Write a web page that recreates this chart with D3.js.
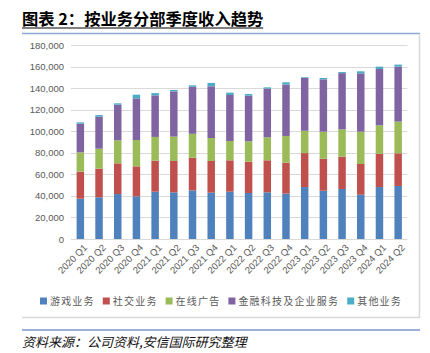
<!DOCTYPE html>
<html>
<head>
<meta charset="utf-8">
<script src="https://cdn.jsdelivr.net/npm/d3@7"></script>
<style>
  body { margin: 0; background: #fff; }
  svg { display: block; }
</style>
</head>
<body>
<div id="viz-container"></div>
<script>
// quarters on the x axis
const quarters = ["2020 Q1", "2020 Q2", "2020 Q3", "2020 Q4",
    "2021 Q1", "2021 Q2", "2021 Q3", "2021 Q4",
    "2022 Q1", "2022 Q2", "2022 Q3", "2022 Q4",
    "2023 Q1", "2023 Q2", "2023 Q3", "2023 Q4",
    "2024 Q1", "2024 Q2"];

// segment values (RMB mn)
const games   = [37400, 38700, 41700, 39600, 43900, 43300, 45100, 43000, 43900, 42700, 43300, 42100, 48200, 44800, 46400, 41100, 48200, 49200];
const social  = [25100, 26600, 28500, 27800, 28800, 29100, 30300, 29400, 29100, 29000, 29700, 28700, 31500, 29700, 30000, 28500, 31000, 30300];
const ads     = [17900, 18500, 21400, 24400, 22000, 22600, 22200, 21300, 17900, 18900, 21300, 24800, 20700, 25100, 25300, 30000, 26300, 29400];
const fintech = [26600, 29700, 33000, 38700, 38600, 42000, 43700, 48000, 42700, 42400, 45200, 47600, 49200, 48500, 52200, 54100, 52200, 51000];
const others  = [1200, 1500, 1300, 3400, 2100, 1300, 1300, 3100, 2200, 1500, 1200, 2200, 600, 1300, 1000, 1900, 2200, 1900];

const seriesNames = ["游戏业务", "社交业务", "在线广告", "金融科技及企业服务", "其他业务"];
const seriesColors = ["#4f81bd", "#c0504d", "#9bbb59", "#8064a2", "#4bacc6"];
const yTicks = [0, 20000, 40000, 60000, 80000, 100000, 120000, 140000, 160000, 180000];

const W = 430, H = 353;
const svg = d3.select("#viz-container")
    .append("svg")
    .attr("width", W)
    .attr("height", H);

// title
const title = svg.append("text")
    .attr("x", 22)
    .attr("y", 25)
    .attr("font-family", "'Noto Sans CJK SC', sans-serif")
    .attr("font-weight", "bold")
    .attr("font-size", "16.3px")
    .attr("fill", "#000")
    .text("图表 2：按业务分部季度收入趋势");
const tw = title.node().getComputedTextLength();
svg.append("line")
    .attr("x1", 22).attr("x2", 22 + tw)
    .attr("y1", 28).attr("y2", 28)
    .attr("stroke", "#000").attr("stroke-width", 1);

// chart frame
svg.append("line")
    .attr("x1", 22).attr("x2", 420)
    .attr("y1", 33.5).attr("y2", 33.5)
    .attr("stroke", "#8ea9d6").attr("stroke-width", 1.5);
svg.append("path")
    .attr("d", "M419.5,34 V317.5 H22")
    .attr("fill", "none")
    .attr("stroke", "#d9d9d9").attr("stroke-width", 1.5);

// source line
svg.append("line")
    .attr("x1", 22).attr("x2", 420)
    .attr("y1", 330).attr("y2", 330)
    .attr("stroke", "#3a62b0").attr("stroke-width", 1);
svg.append("text")
    .attr("x", 22)
    .attr("y", 347)
    .attr("font-family", "'Noto Sans CJK SC', sans-serif")
    .attr("font-style", "italic")
    .attr("font-size", "13px")
    .attr("fill", "#111")
    .text("资料来源：公司资料,安信国际研究整理");

// scales
const x = d3.scaleBand()
    .domain(quarters)
    .range([71, 407.5])
    .paddingInner(0.6)
    .paddingOuter(0.3);

const y = d3.scaleLinear()
    .domain([0, 180000])
    .range([239, 45]);

// gridlines
svg.append("g")
    .selectAll("line")
    .data(yTicks)
    .join("line")
    .attr("x1", 71).attr("x2", 407.5)
    .attr("y1", d => Math.round(y(d)) + 0.5)
    .attr("y2", d => Math.round(y(d)) + 0.5)
    .attr("stroke", "#d9d9d9")
    .attr("stroke-width", 1);

// y axis labels
const yAxis = svg.append("g")
    .attr("transform", "translate(64,0)")
    .call(d3.axisLeft(y).tickValues(yTicks).tickFormat(d3.format(",")).tickSize(0).tickPadding(0));
yAxis.select(".domain").remove();
yAxis.selectAll("text")
    .attr("font-family", "'Liberation Sans', Arial, sans-serif")
    .attr("font-size", "9.5px")
    .attr("fill", "#595959");

// stacked data
const rows = quarters.map((q, i) => ({
    q,
    "游戏业务": games[i],
    "社交业务": social[i],
    "在线广告": ads[i],
    "金融科技及企业服务": fintech[i],
    "其他业务": others[i]
}));
const stack = d3.stack().keys(seriesNames)(rows);

svg.append("g")
    .selectAll("g")
    .data(stack)
    .join("g")
    .attr("fill", (d, i) => seriesColors[i])
    .selectAll("rect")
    .data(d => d)
    .join("rect")
    .attr("x", d => x(d.data.q))
    .attr("width", x.bandwidth())
    .attr("y", d => y(d[1]))
    .attr("height", d => y(d[0]) - y(d[1]));

// x axis labels
const xAxis = svg.append("g")
    .attr("transform", "translate(0,243)")
    .call(d3.axisBottom(x).tickSize(0).tickPadding(0));
xAxis.select(".domain").remove();
xAxis.selectAll("text")
    .attr("font-family", "'Liberation Sans', Arial, sans-serif")
    .attr("font-size", "9.5px")
    .attr("fill", "#595959")
    .attr("text-anchor", "end")
    .attr("dy", "0.35em")
    .attr("transform", "translate(5,3) rotate(-45)");

// legend
const legend = svg.append("g").attr("transform", "translate(0,301)");
let lx = 0;
const items = [];
seriesNames.forEach((name, i) => {
    const g = legend.append("g");
    g.append("rect")
        .attr("x", 0).attr("y", -3.5)
        .attr("width", 7).attr("height", 7)
        .attr("fill", seriesColors[i]);
    const t = g.append("text")
        .attr("x", 10)
        .attr("dy", "0.36em")
        .attr("font-family", "'Noto Sans CJK SC', sans-serif")
        .attr("font-size", "10px")
        .attr("letter-spacing", "1.2px")
        .attr("fill", "#595959")
        .text(name);
    const w = 10 + t.node().getComputedTextLength();
    items.push({ g, w });
});
const gap = 8;
const total = d3.sum(items, d => d.w) + gap * (items.length - 1);
lx = 221 - total / 2;
items.forEach(d => {
    d.g.attr("transform", `translate(${lx},0)`);
    lx += d.w + gap;
});
</script>
</body>
</html>
